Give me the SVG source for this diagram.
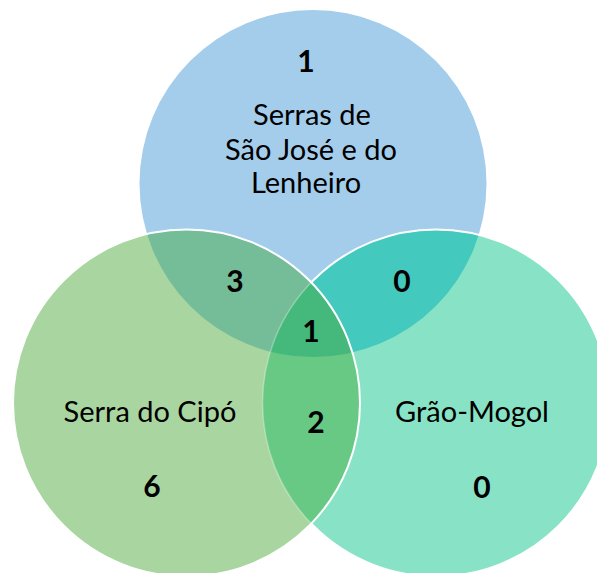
<svg xmlns="http://www.w3.org/2000/svg" width="597" height="573" viewBox="0 0 597 573">
<style>
  .lbl { font-family: Lato, "Open Sans", "Liberation Sans", sans-serif; font-size: 29px; fill: #000; text-anchor: middle; }
  .num { font-family: Lato, "Open Sans", "Liberation Sans", sans-serif; font-size: 30px; font-weight: bold; fill: #000; text-anchor: middle; }
  .edge { fill: none; stroke: #fff; stroke-width: 2; }
</style>
<defs>
  <clipPath id="cpBlue"><circle cx="313" cy="183.5" r="173.5"/></clipPath>
  <clipPath id="cpLeft"><circle cx="186.5" cy="403" r="173.5"/></clipPath>
  <clipPath id="cpRight"><circle cx="436" cy="403" r="173.5"/></clipPath>
</defs>
<rect width="597" height="573" fill="#fff"/>
<g id="serras-sao-jose">
  <circle cx="313" cy="183.5" r="173.5" fill="#A4CDEB"/>
</g>
<g id="grao-mogol">
  <circle cx="436" cy="403" r="173.5" fill="#88E3C6"/>
  <circle cx="436" cy="403" r="173.5" fill="#43C9BE" clip-path="url(#cpBlue)"/>
  <circle cx="436" cy="403" r="173.5" class="edge"/>
</g>
<g id="serra-do-cipo">
  <circle cx="186.5" cy="403" r="173.5" fill="#A9D6A0"/>
  <circle cx="186.5" cy="403" r="173.5" fill="#75BD98" clip-path="url(#cpBlue)"/>
  <circle cx="186.5" cy="403" r="173.5" fill="#68C985" clip-path="url(#cpRight)"/>
  <g clip-path="url(#cpBlue)">
    <circle cx="186.5" cy="403" r="173.5" fill="#45B97B" clip-path="url(#cpRight)"/>
  </g>
  <circle cx="436" cy="403" r="173.5" fill="none" stroke="#fff" stroke-opacity="0.3" stroke-width="1.5" clip-path="url(#cpLeft)"/>
  <circle cx="186.5" cy="403" r="173.5" class="edge"/>
</g>
<g id="labels">
  <text class="num" x="306" y="72">1</text>
  <text class="lbl" x="312" y="125">Serras de</text>
  <text class="lbl" x="311" y="160">São José e do</text>
  <text class="lbl" x="306" y="193">Lenheiro</text>
  <text class="num" x="235" y="292">3</text>
  <text class="num" x="402" y="292">0</text>
  <text class="num" x="311" y="342">1</text>
  <text class="num" x="316" y="433">2</text>
  <text class="lbl" x="150" y="422">Serra do Cipó</text>
  <text class="num" x="152" y="497">6</text>
  <text class="lbl" x="472" y="422">Grão-Mogol</text>
  <text class="num" x="482" y="498">0</text>
</g>
</svg>
